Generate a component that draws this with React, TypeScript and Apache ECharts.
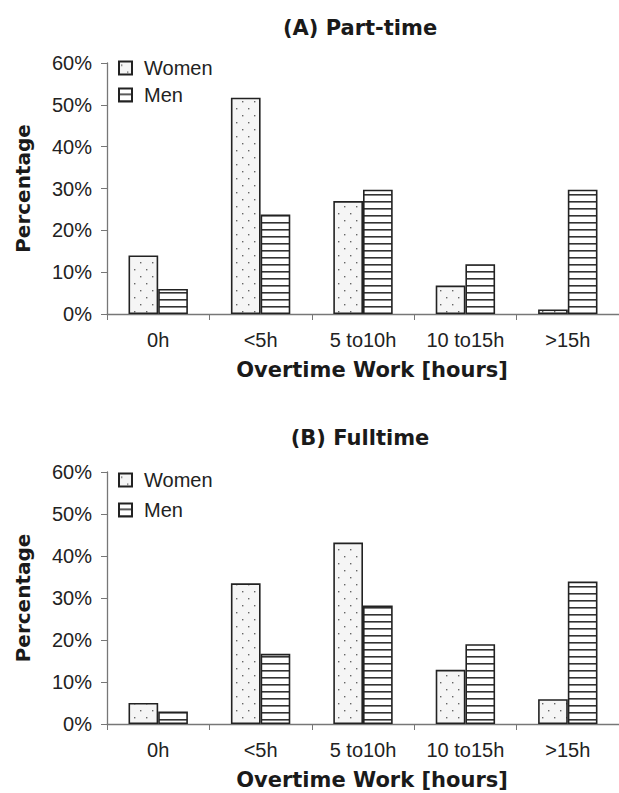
import React, { useEffect, useRef } from "react";
import * as echarts from "echarts";

const categories = ["0h", "<5h", "5 to10h", "10 to15h", ">15h"];
const partTimeWomen = [14, 51.7, 27, 6.8, 1.1];
const partTimeMen = [6, 23.8, 29.7, 11.9, 29.7];
const fullTimeWomen = [5, 33.5, 43.2, 12.9, 5.9];
const fullTimeMen = [3, 16.7, 28.2, 19, 33.9];
const yTicks = { min: 0, max: 60, interval: 10 };
const titleA = "(A) Part-time";
const titleB = "(B) Fulltime";
const xName = "Overtime Work [hours]";
const yName = "Percentage";

const FONT = "Liberation Sans, Arial, sans-serif";
const BOLD = "DejaVu Sans, Liberation Sans, sans-serif";

function makeDots() {
  const c = document.createElement("canvas");
  c.width = 12;
  c.height = 14;
  const g = c.getContext("2d")!;
  g.fillStyle = "#f5f5f5";
  g.fillRect(0, 0, 12, 14);
  g.fillStyle = "#666";
  g.fillRect(2, 3, 1.4, 1.4);
  g.fillRect(8, 10, 1.4, 1.4);
  return c;
}

function makeStripes() {
  const c = document.createElement("canvas");
  c.width = 8;
  c.height = 7;
  const g = c.getContext("2d")!;
  g.fillStyle = "#ffffff";
  g.fillRect(0, 0, 8, 7);
  g.fillStyle = "#333";
  g.fillRect(0, 5, 8, 1.6);
  return c;
}

export default function App() {
  const ref = useRef<HTMLDivElement>(null);
  useEffect(() => {
    if (!ref.current) return;
    const chart = echarts.init(ref.current, null, { renderer: "svg" });
    const dots = { image: makeDots(), repeat: "repeat", imageWidth: 12, imageHeight: 14 } as any;
    const stripes = { image: makeStripes(), repeat: "repeat", imageWidth: 8, imageHeight: 7 } as any;

    const grids = [
      { left: 107, top: 63, width: 525, height: 251 },
      { left: 107, top: 472, width: 525, height: 252 },
    ];
    const xAxis = grids.map((_, i) => ({
      type: "category",
      gridIndex: i,
      data: categories,
      axisLine: { lineStyle: { color: "#777", width: 1.3 } },
      axisTick: { show: true, length: 6, lineStyle: { color: "#777" } },
      axisLabel: { color: "#222", fontSize: 20, lineHeight: 20, fontFamily: FONT, margin: 16 },
    }));
    const yAxis = grids.map((_, i) => ({
      type: "value",
      gridIndex: i,
      min: yTicks.min,
      max: yTicks.max,
      interval: yTicks.interval,
      name: yName,
      nameLocation: "middle",
      nameGap: 74,
      nameTextStyle: { color: "#1a1a1a", fontSize: 20, fontWeight: "bold", fontFamily: BOLD },
      axisLine: { show: true, lineStyle: { color: "#777", width: 1.3 } },
      axisTick: { show: true, length: 6, lineStyle: { color: "#777" } },
      splitLine: { show: false },
      axisLabel: { color: "#222", fontSize: 20, fontFamily: FONT, margin: 15, formatter: "{value}%" },
    }));
    const barCommon = {
      type: "bar",
      barGap: "0%",
      barCategoryGap: "42%",
    };
    const series = [
      { ...barCommon, name: "Women", xAxisIndex: 0, yAxisIndex: 0, data: partTimeWomen, itemStyle: { color: dots, borderColor: "#222", borderWidth: 1.6 } },
      { ...barCommon, name: "Men", xAxisIndex: 0, yAxisIndex: 0, data: partTimeMen, itemStyle: { color: stripes, borderColor: "#222", borderWidth: 1.6 } },
      { ...barCommon, name: "Women", xAxisIndex: 1, yAxisIndex: 1, data: fullTimeWomen, itemStyle: { color: dots, borderColor: "#222", borderWidth: 1.6 } },
      { ...barCommon, name: "Men", xAxisIndex: 1, yAxisIndex: 1, data: fullTimeMen, itemStyle: { color: stripes, borderColor: "#222", borderWidth: 1.6 } },
    ];
    const legendCommon = {
      orient: "vertical",
      left: 118,
      padding: 0,
      icon: "rect",
      itemWidth: 13,
      itemHeight: 13,
      textStyle: { color: "#222", fontSize: 20, fontFamily: FONT, padding: [0, 0, 0, 7] },
      data: ["Women", "Men"],
      selectedMode: false,
    };
    const titleStyle = { color: "#1a1a1a", fontSize: 21, lineHeight: 22, fontWeight: "bold", fontFamily: BOLD };
    chart.setOption({
      animation: false,
      backgroundColor: "#ffffff",
      title: [
        { text: titleA, left: 360, top: 17, textAlign: "center", textStyle: titleStyle, padding: 0 },
        { text: xName, left: 372, top: 359, textAlign: "center", textStyle: titleStyle, padding: 0 },
        { text: titleB, left: 360, top: 427, textAlign: "center", textStyle: titleStyle, padding: 0 },
        { text: xName, left: 372, top: 769, textAlign: "center", textStyle: titleStyle, padding: 0 },
      ],
      legend: [
        { ...legendCommon, top: 58, itemGap: 7 },
        { ...legendCommon, top: 470, itemGap: 10 },
      ],
      grid: grids,
      xAxis,
      yAxis,
      series,
    } as any);
    return () => chart.dispose();
  }, []);
  return <div ref={ref} style={{ position: "absolute", left: 0, top: 0, width: 619, height: 793 }} />;
}
